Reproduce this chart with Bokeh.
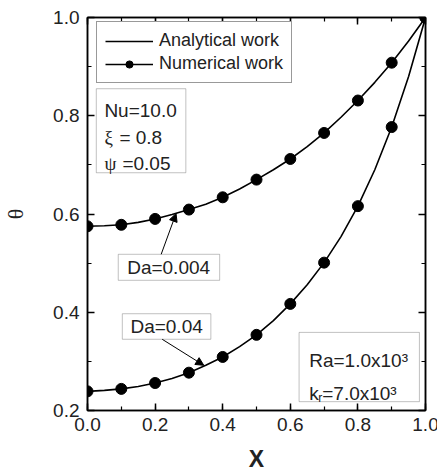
from bokeh.plotting import figure
from bokeh.models import (Range1d, LinearAxis, Legend, LegendItem, Label,
                          BoxAnnotation, Arrow, NormalHead, SingleIntervalTicker,
                          PrintfTickFormatter, CustomJSTickFormatter)
from bokeh.embed import file_html
from bokeh.resources import INLINE

# ---------------- data ----------------
x_num = [0.0, 0.1, 0.2, 0.3, 0.4, 0.5, 0.6, 0.7, 0.8, 0.9, 1.0]
theta_num_da0004 = [0.575, 0.578, 0.590, 0.609, 0.634, 0.670, 0.712, 0.765, 0.831, 0.908, 1.0]
theta_num_da004 = [0.239, 0.244, 0.256, 0.277, 0.309, 0.354, 0.417, 0.501, 0.616, 0.777, 1.0]

x_ana = [0.0, 0.05, 0.1, 0.15, 0.2, 0.25, 0.3, 0.35, 0.4, 0.45, 0.5,
         0.55, 0.6, 0.65, 0.7, 0.75, 0.8, 0.85, 0.9, 0.95, 1.0]
theta_ana_da0004 = [0.575, 0.576, 0.578, 0.583, 0.590, 0.599, 0.609, 0.620, 0.634, 0.651, 0.670,
                    0.690, 0.712, 0.737, 0.765, 0.797, 0.831, 0.868, 0.908, 0.952, 1.0]
theta_ana_da004 = [0.239, 0.241, 0.244, 0.249, 0.256, 0.265, 0.277, 0.292, 0.309, 0.330, 0.354,
                   0.383, 0.417, 0.456, 0.501, 0.554, 0.616, 0.690, 0.777, 0.880, 1.0]

x_ticks_step = 0.2
y_ticks_step = 0.2

FONT = "Liberation Sans"

p = figure(frame_width=338, frame_height=393,
           x_range=Range1d(0.0, 1.0), y_range=Range1d(0.2, 1.0),
           output_backend="svg", toolbar_location=None,
           min_border_left=82, min_border_right=17, min_border_top=17, min_border_bottom=66)

p.xgrid.visible = False
p.ygrid.visible = False
p.outline_line_color = "black"
p.outline_line_width = 1.5
p.background_fill_color = "white"
p.border_fill_color = "white"


def style_axis(ax, ticker, labels=True):
    ax.ticker = ticker
    ax.axis_line_color = "black"
    ax.axis_line_width = 1.5
    ax.major_tick_in = 7
    ax.major_tick_out = 0
    ax.minor_tick_in = 4
    ax.minor_tick_out = 0
    ax.major_tick_line_width = 1.5
    ax.minor_tick_line_width = 1.2
    ax.major_tick_line_color = "black"
    ax.minor_tick_line_color = "black"
    ax.major_label_text_font = FONT
    ax.major_label_text_font_size = "19px"
    ax.major_label_text_color = "#222222"
    if labels:
        ax.formatter = PrintfTickFormatter(format="%.1f")
    else:
        ax.formatter = CustomJSTickFormatter(code="return ''")
        ax.major_label_standoff = 0


xt = SingleIntervalTicker(interval=x_ticks_step, num_minor_ticks=2)
yt = SingleIntervalTicker(interval=y_ticks_step, num_minor_ticks=2)

style_axis(p.xaxis[0], xt)
style_axis(p.yaxis[0], yt)
p.xaxis[0].major_label_standoff = 7
p.yaxis[0].major_label_standoff = 8

p.xaxis[0].axis_label = "X"
p.xaxis[0].axis_label_text_font = FONT
p.xaxis[0].axis_label_text_font_style = "bold"
p.xaxis[0].axis_label_text_font_size = "23px"
p.xaxis[0].axis_label_text_color = "#222222"
p.xaxis[0].axis_label_standoff = 12

p.yaxis[0].axis_label = "θ"
p.yaxis[0].axis_label_text_font = "Liberation Serif"
p.yaxis[0].axis_label_text_font_style = "normal"
p.yaxis[0].axis_label_text_font_size = "22px"
p.yaxis[0].axis_label_text_color = "#222222"
p.yaxis[0].axis_label_standoff = 22

top_ax = LinearAxis()
style_axis(top_ax, SingleIntervalTicker(interval=x_ticks_step, num_minor_ticks=2), labels=False)
p.add_layout(top_ax, "above")
right_ax = LinearAxis()
style_axis(right_ax, SingleIntervalTicker(interval=y_ticks_step, num_minor_ticks=2), labels=False)
p.add_layout(right_ax, "right")

# ---------------- curves ----------------
l1 = p.line(x_ana, theta_ana_da0004, line_color="black", line_width=1.6)
l2 = p.line(x_ana, theta_ana_da004, line_color="black", line_width=1.6)
s1 = p.scatter(x_num, theta_num_da0004, marker="circle", size=11,
               fill_color="black", line_color="black")
s2 = p.scatter(x_num, theta_num_da004, marker="circle", size=11,
               fill_color="black", line_color="black")

legend = Legend(items=[LegendItem(label="Analytical work", renderers=[l1]),
                       LegendItem(label="Numerical work", renderers=[l2, s2])],
                location=(9, 327))
legend.label_text_font = FONT
legend.label_text_font_size = "18px"
legend.label_text_color = "#222222"
legend.glyph_width = 48
legend.glyph_height = 18
legend.label_height = 18
legend.spacing = 2
legend.padding = 8
legend.label_standoff = 6
legend.margin = 0
legend.border_line_color = "#333333"
legend.border_line_width = 1
legend.background_fill_alpha = 1.0
p.add_layout(legend)

# ---------------- annotations ----------------
def box(l, r, b, t):
    p.add_layout(BoxAnnotation(left=l, right=r, bottom=b, top=t,
                               fill_alpha=0, line_color="#333333", line_width=1))


def lab(x, y, text, size="19px", font=FONT, align="left", baseline="alphabetic",
        xo=0, yo=0):
    p.add_layout(Label(x=x, y=y, text=text, text_font=font, text_font_size=size,
                       text_align=align, text_baseline=baseline, text_color="#222222",
                       x_offset=xo, y_offset=yo))


# parameter box
box(0.026, 0.291, 0.684, 0.855)
lab(0.05, 0.811, "Nu=10.0")
lab(0.05, 0.756, "ξ", font="Liberation Serif", size="19px")
lab(0.05, 0.756, "= 0.8", xo=15)
lab(0.05, 0.703, "ψ", font="Liberation Serif", size="19px")
lab(0.05, 0.703, "=0.05", xo=18)

# Da = 0.004
box(0.091, 0.391, 0.465, 0.518)
lab(0.240, 0.4915, "Da=0.004", align="center", baseline="middle")
p.add_layout(Arrow(end=NormalHead(size=8, fill_color="black", line_color="black"),
                   x_start=0.218, y_start=0.518, x_end=0.262, y_end=0.601,
                   line_color="black", line_width=1))

# Da = 0.04
box(0.103, 0.365, 0.345, 0.397)
lab(0.234, 0.371, "Da=0.04", align="center", baseline="middle")
p.add_layout(Arrow(end=NormalHead(size=8, fill_color="black", line_color="black"),
                   x_start=0.221, y_start=0.345, x_end=0.344, y_end=0.292,
                   line_color="black", line_width=1))

# Ra / kr box
box(0.626, 0.982, 0.218, 0.359)
lab(0.656, 0.302, "Ra=1.0x10³")
lab(0.656, 0.235, "k")
lab(0.656, 0.235, "r", size="12px", xo=9, yo=-5)
lab(0.656, 0.235, "=7.0x10³", xo=13)

open("out.html", "w").write(file_html(p, INLINE))
